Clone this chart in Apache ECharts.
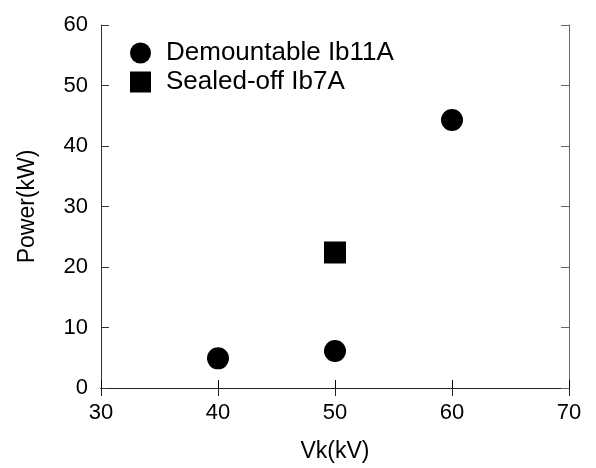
<!DOCTYPE html>
<html>
<head>
<meta charset="utf-8">
<script src="https://cdn.jsdelivr.net/npm/echarts@6/dist/echarts.min.js"></script>
<style>
  html, body { margin: 0; padding: 0; background: #fff; }
  #chart { width: 596px; height: 468px; }
</style>
</head>
<body>
<div id="chart"></div>
<script>
// 数据：从图中读取
const demountable = [[40, 4.9], [50, 6.1], [60, 44.3]]
const sealedOff = [[50, 22.4]]
const seriesNames = ['Demountable Ib11A', 'Sealed-off Ib7A']
const xRange = [30, 70]
const yRange = [0, 60]

const FONT = '"Liberation Sans", Arial, sans-serif'
const INK = '#000'

// 上边框、右边框（只有刻度，无标签）
const frameAxis = (extra, color) => ({
  type: 'value',
  axisLine: { show: true, lineStyle: { color: color, width: 1 } },
  axisTick: { show: true, inside: true, length: 8, lineStyle: { color: color } },
  axisLabel: { show: false },
  splitLine: { show: false },
  ...extra
})

var myChart = echarts.init(document.getElementById('chart'), null, { renderer: 'canvas' })
var option = {
  animation: false,
  backgroundColor: '#fff',
  textStyle: { fontFamily: FONT },
  grid: { left: 101, right: 27, top: 25, bottom: 77 },
  legend: {
    data: [
      { name: seriesNames[0], icon: 'circle' },
      { name: seriesNames[1], icon: 'rect' }
    ],
    orient: 'vertical',
    left: 125,
    top: 35,
    itemWidth: 21,
    itemHeight: 21,
    itemGap: 3,
    itemStyle: { color: INK, opacity: 1 },
    textStyle: { color: INK, fontSize: 26, fontFamily: FONT, padding: [0, 0, 0, 10] }
  },
  xAxis: [
    {
      type: 'value',
      min: xRange[0],
      max: xRange[1],
      interval: 10,
      name: 'Vk(kV)',
      nameLocation: 'middle',
      nameGap: 52,
      nameTextStyle: { color: INK, fontSize: 23, fontFamily: FONT },
      axisLine: { show: true, lineStyle: { color: INK, width: 1 } },
      axisTick: { show: true, inside: true, length: 8, lineStyle: { color: INK } },
      axisLabel: { color: INK, fontSize: 22, fontFamily: FONT, margin: 14 },
      splitLine: { show: false }
    },
    frameAxis({ min: xRange[0], max: xRange[1], interval: 10, position: 'top' }, '#222')
  ],
  yAxis: [
    {
      type: 'value',
      min: yRange[0],
      max: yRange[1],
      interval: 10,
      name: 'Power(kW)',
      nameLocation: 'middle',
      nameGap: 62,
      nameTextStyle: { color: INK, fontSize: 23, fontFamily: FONT },
      axisLine: { show: true, lineStyle: { color: '#333', width: 1 } },
      axisTick: { show: true, inside: true, length: 8, lineStyle: { color: '#333' } },
      axisLabel: { color: INK, fontSize: 22, fontFamily: FONT, margin: 13 },
      splitLine: { show: false }
    },
    frameAxis({ min: yRange[0], max: yRange[1], interval: 10, position: 'right' }, '#666')
  ],
  series: [
    {
      name: seriesNames[0],
      type: 'scatter',
      symbol: 'circle',
      symbolSize: 22,
      itemStyle: { color: INK, opacity: 1 },
      data: demountable
    },
    {
      name: seriesNames[1],
      type: 'scatter',
      symbol: 'rect',
      symbolSize: 22,
      itemStyle: { color: INK, opacity: 1 },
      data: sealedOff
    }
  ]
}
myChart.setOption(option, true)
</script>
</body>
</html>
